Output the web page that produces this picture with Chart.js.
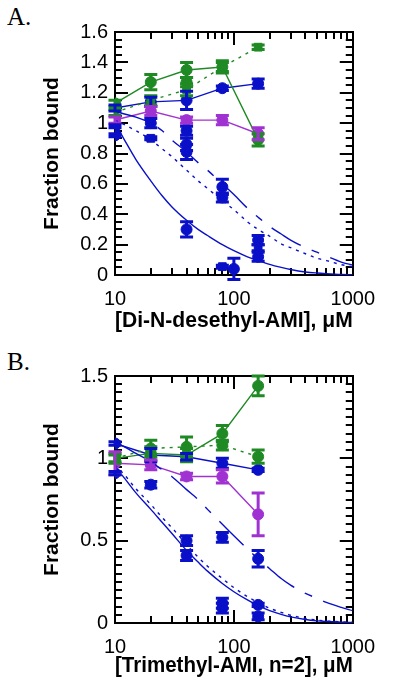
<!DOCTYPE html>
<html><head><meta charset="utf-8">
<script src="https://cdn.jsdelivr.net/npm/chart.js@4/dist/chart.umd.min.js"></script>
<style>
html,body{margin:0;padding:0;background:#fff;width:400px;height:689px;overflow:hidden}
canvas{position:absolute;left:0}
.lab{position:absolute;left:7px;font-family:"Liberation Serif","Times New Roman",serif;font-size:25px;line-height:25px;color:#000}
</style></head><body>
<div class="lab" style="top:4px">A.</div>
<div class="lab" style="top:349px">B.</div>
<canvas id="ca" width="400" height="344" style="top:0"></canvas>
<canvas id="cb" width="400" height="345" style="top:344px"></canvas>
<script>
// ---------- data ----------
const conc = [10, 20, 40, 80, 160];
const xTickValues = [10, 100, 1000];
const xTickLabels = ['10', '100', '1000'];
const xMinorTicks = [20, 30, 40, 50, 60, 70, 80, 90, 200, 300, 400, 500, 600, 700, 800, 900];
const yTickValuesA = [0, 0.2, 0.4, 0.6, 0.8, 1, 1.2, 1.4, 1.6];
const yTickLabelsA = ['0', '0.2', '0.4', '0.6', '0.8', '1', '1.2', '1.4', '1.6'];
const yTickValuesB = [0, 0.5, 1, 1.5];
const yTickLabelsB = ['0', '0.5', '1', '1.5'];
const xTitleA = '[Di-N-desethyl-AMI], \u03bcM';
const xTitleB = '[Trimethyl-AMI, n=2], \u03bcM';
const yTitle = 'Fraction bound';

// Panel A series
const aGreenSolid = [1.13, 1.27, 1.35, 1.37, 0.89];
const aGreenSolidErr = [0.02, 0.05, 0.05, 0.03, 0.04];
const aGreenDotted = [1.07, 1.15, 1.22, 1.37, 1.50];
const aGreenDottedErr = [0.02, 0.03, 0.04, 0.04, 0.015];
const aGreenExtraX = [40];
const aGreenExtraY = [1.27];
const aGreenExtraErr = [0.03];
const aBlueRise = [1.10, 1.14, 1.15, 1.23, 1.26];
const aBlueRiseErr = [0.02, 0.03, 0.06, 0.015, 0.03];
const aPurple = [1.02, 1.08, 1.02, 1.02, 0.93];
const aPurpleErr = [0.02, 0.03, 0.02, 0.03, 0.04];
const aBlueX   = [10, 10, 20, 20, 40, 40, 40, 40, 80, 80, 80, 100, 160, 160, 160];
const aBlueY   = [0.98, 0.92, 1.00, 0.90, 0.95, 0.86, 0.81, 0.30, 0.58, 0.51, 0.055, 0.04, 0.23, 0.18, 0.12];
const aBlueErr = [0.01, 0.01, 0.03, 0.01, 0.03, 0.04, 0.05, 0.05, 0.05, 0.03, 0.01, 0.07, 0.03, 0.02, 0.03];
const aBlueShape = ['circle','circle','circle','rect','circle','circle','circle','circle','circle','circle','rect','circle','circle','rect','circle'];

// fitted curves
const fitX = [10, 12, 15, 20, 25, 30, 40, 50, 60, 80, 100, 130, 160, 200, 250, 300, 400, 500, 600, 800, 1000];
const aFitSolid = [1.00, 0.89, 0.76, 0.62, 0.52, 0.45, 0.36, 0.30, 0.26, 0.20, 0.16, 0.12, 0.095, 0.07, 0.05, 0.036, 0.02, 0.013, 0.009, 0.004, 0.002];
const aFitDash  = [1.08, 1.06, 1.04, 1.00, 0.95, 0.89, 0.81, 0.74, 0.69, 0.60, 0.53, 0.44, 0.38, 0.32, 0.27, 0.23, 0.18, 0.15, 0.125, 0.085, 0.065];
const aFitDot   = [1.02, 0.99, 0.95, 0.89, 0.83, 0.78, 0.69, 0.62, 0.57, 0.49, 0.43, 0.35, 0.30, 0.255, 0.205, 0.18, 0.14, 0.11, 0.095, 0.068, 0.055];

// Panel B series
const bGreenSolid = [1.00, 1.03, 1.02, 1.15, 1.44];
const bGreenSolidErr = [0.02, 0.04, 0.04, 0.05, 0.06];
const bGreenDotted = [1.00, 1.06, 1.07, 1.08, 1.01];
const bGreenDottedErr = [0.03, 0.05, 0.06, 0.03, 0.04];
const bBlueLine = [1.09, 1.02, 1.01, 0.97, 0.93];
const bBlueLineErr = [0.01, 0.04, 0.02, 0.03, 0.01];
const bPurple = [0.97, 0.96, 0.89, 0.89, 0.66];
const bPurpleErr = [0.07, 0.03, 0.02, 0.04, 0.13];
const bBlueX   = [10, 20, 40, 40, 80, 80, 80, 160, 160, 160];
const bBlueY   = [0.91, 0.84, 0.50, 0.41, 0.52, 0.12, 0.09, 0.39, 0.11, 0.04];
const bBlueErr = [0.01, 0.02, 0.03, 0.03, 0.03, 0.03, 0.03, 0.05, 0.01, 0.02];
const bFitSolid = [0.95, 0.88, 0.79, 0.69, 0.61, 0.545, 0.44, 0.37, 0.315, 0.24, 0.19, 0.14, 0.105, 0.075, 0.052, 0.037, 0.021, 0.013, 0.009, 0.005, 0.003];
const bFitDash  = [1.10, 1.07, 1.03, 0.98, 0.93, 0.89, 0.81, 0.75, 0.69, 0.60, 0.53, 0.45, 0.39, 0.33, 0.27, 0.23, 0.18, 0.15, 0.125, 0.095, 0.075];
const bFitDot   = [0.96, 0.90, 0.815, 0.72, 0.64, 0.58, 0.475, 0.40, 0.345, 0.27, 0.215, 0.16, 0.125, 0.09, 0.065, 0.047, 0.028, 0.018, 0.012, 0.007, 0.004];

// ---------- styling ----------
const BLUE = '#0a10c8', GREEN = '#1f8a24', PURPLE = '#a032d2';
const FONT = '"Liberation Sans", Arial, Helvetica, sans-serif';

function pts(xs, ys) { return xs.map((x, i) => ({x: x, y: ys[i]})); }

function seriesDS(xs, ys, errs, color, opts) {
  return Object.assign({
    data: pts(xs, ys), errors: errs, borderColor: color, backgroundColor: color,
    borderWidth: 1.4, pointRadius: 5.5, pointHoverRadius: 5.5, pointBorderWidth: 1,
    pointStyle: 'circle', showLine: true, tension: 0, xAxisID: 'x', yAxisID: 'y'
  }, opts || {});
}
function curveDS(ys, dash) {
  return {data: pts(fitX, ys), borderColor: BLUE, backgroundColor: BLUE, borderWidth: 1.4,
    pointRadius: 0, showLine: true, borderDash: dash, cubicInterpolationMode: 'monotone',
    xAxisID: 'x', yAxisID: 'y'};
}

const errorBarPlugin = {
  id: 'errbars',
  afterDatasetsDraw(chart) {
    const ctx = chart.ctx, ys = chart.scales.y;
    chart.data.datasets.forEach((ds, i) => {
      if (!ds.errors) return;
      const meta = chart.getDatasetMeta(i);
      meta.data.forEach((pt, j) => {
        const e = ds.errors[j]; if (!e) return;
        const v = ds.data[j].y;
        const t = ys.getPixelForValue(v + e), b = ys.getPixelForValue(v - e);
        ctx.save(); ctx.strokeStyle = ds.borderColor; ctx.lineWidth = 3; ctx.setLineDash([]);
        ctx.beginPath();
        ctx.moveTo(pt.x, t); ctx.lineTo(pt.x, b);
        ctx.moveTo(pt.x - 6.5, t); ctx.lineTo(pt.x + 6.5, t);
        ctx.moveTo(pt.x - 6.5, b); ctx.lineTo(pt.x + 6.5, b);
        ctx.stroke(); ctx.restore();
      });
    });
  }
};

// auxiliary axis that only draws inward tick marks (and optionally the frame border)
function auxAxis(kind, position, tickVals, tickLen, withBorder, weight, yMax) {
  const horiz = (position === 'top' || position === 'bottom');
  const s = {
    type: kind, position: position, weight: weight, display: true,
    min: horiz ? 10 : 0, max: horiz ? 1000 : yMax,
    grid: {display: true, drawOnChartArea: false, drawTicks: true, tickLength: tickLen,
      color: '#000', tickColor: '#000', tickWidth: 2, lineWidth: 2},
    border: {display: withBorder, color: '#000', width: 2},
    ticks: {display: false, autoSkip: false},
    afterBuildTicks: sc => { sc.ticks = tickVals.map(v => ({value: v})); }
  };
  if (horiz) s.afterFit = sc => { sc.height = 0; };
  else s.afterFit = sc => { sc.width = 0; };
  return s;
}

function minorY(yMax, step, majors) {
  const out = [];
  const n = Math.round(yMax / step);
  for (let k = 0; k <= n; k++) {
    const v = Math.round(k * step * 1000) / 1000;
    if (!majors.some(m => Math.abs(m - v) < 1e-6)) out.push(v);
  }
  return out;
}

function makeChart(id, h, top, bottom, yMax, yTickVals, yTickLabs, yMinor, xTitle, datasets) {
  const yMinorVals = minorY(yMax, yMinor, yTickVals);
  return new Chart(document.getElementById(id), {
    type: 'line',
    data: {datasets: datasets},
    options: {
      responsive: false, animation: false, devicePixelRatio: 1,
      layout: {padding: {top: top, right: 33, left: 0, bottom: 0}},
      plugins: {legend: {display: false}, tooltip: {enabled: false}},
      scales: {
        x: {type: 'logarithmic', min: 10, max: 1000, position: 'bottom', weight: 10,
          grid: {display: true, drawOnChartArea: false, drawTicks: true, tickLength: -13,
            color: '#000', tickColor: '#000', tickWidth: 2, lineWidth: 2},
          border: {display: true, color: '#000', width: 2},
          afterBuildTicks: s => { s.ticks = xTickValues.map(v => ({value: v})); },
          afterFit: s => { s.height = h - bottom; },
          ticks: {autoSkip: false, maxRotation: 0, color: '#000', padding: 25,
            font: {family: FONT, size: 20},
            callback: v => { const i = xTickValues.indexOf(v); return i >= 0 ? xTickLabels[i] : ''; }},
          title: {display: true, text: xTitle, color: '#000', padding: {top: 0, bottom: 10},
            font: {family: FONT, size: 21.5, weight: 'bold'}}
        },
        y: {type: 'linear', min: 0, max: yMax, position: 'left', weight: 10,
          grid: {display: true, drawOnChartArea: false, drawTicks: true, tickLength: -13,
            color: '#000', tickColor: '#000', tickWidth: 2, lineWidth: 2},
          border: {display: true, color: '#000', width: 2},
          afterBuildTicks: s => { s.ticks = yTickVals.map(v => ({value: v})); },
          afterFit: s => { s.width = 115; },
          ticks: {autoSkip: false, color: '#000', padding: 20, font: {family: FONT, size: 20},
            callback: v => { const i = yTickVals.findIndex(t => Math.abs(t - v) < 1e-9); return i >= 0 ? yTickLabs[i] : ''; }},
          title: {display: true, text: yTitle, color: '#000', padding: {top: 40, bottom: 0},
            font: {family: FONT, size: 21, weight: 'bold'}}
        },
        xmb: auxAxis('logarithmic', 'bottom', xMinorTicks, -7, false, 0, yMax),
        xt:  auxAxis('logarithmic', 'top', xTickValues, -13, true, 10, yMax),
        xtm: auxAxis('logarithmic', 'top', xMinorTicks, -7, false, 0, yMax),
        yml: auxAxis('linear', 'left', yMinorVals, -7, false, 0, yMax),
        yr:  auxAxis('linear', 'right', yTickVals, -13, true, 0, yMax),
        yrm: auxAxis('linear', 'right', yMinorVals, -7, false, 10, yMax)
      }
    },
    plugins: [errorBarPlugin]
  });
}

makeChart('ca', 344, 27, 275, 1.6, yTickValuesA, yTickLabelsA, 0.05, xTitleA, [
  curveDS(aFitSolid, []),
  curveDS(aFitDash, [34, 12, 8, 12]),
  curveDS(aFitDot, [3, 5]),
  seriesDS(conc, aGreenSolid, aGreenSolidErr, GREEN),
  seriesDS(conc, aGreenDotted, aGreenDottedErr, GREEN, {borderDash: [3, 5], pointStyle: 'rect'}),
  seriesDS(aGreenExtraX, aGreenExtraY, aGreenExtraErr, GREEN, {showLine: false}),
  seriesDS(conc, aBlueRise, aBlueRiseErr, BLUE),
  seriesDS(conc, aPurple, aPurpleErr, PURPLE),
  seriesDS(aBlueX, aBlueY, aBlueErr, BLUE, {showLine: false, pointStyle: aBlueShape})
]);

makeChart('cb', 345, 29, 279, 1.5, yTickValuesB, yTickLabelsB, 0.05, xTitleB, [
  curveDS(bFitSolid, []),
  curveDS(bFitDash, [34, 12, 8, 12]),
  curveDS(bFitDot, [3, 5]),
  seriesDS(conc, bGreenSolid, bGreenSolidErr, GREEN),
  seriesDS(conc, bGreenDotted, bGreenDottedErr, GREEN, {borderDash: [3, 5]}),
  seriesDS(conc, bBlueLine, bBlueLineErr, BLUE),
  seriesDS(conc, bPurple, bPurpleErr, PURPLE),
  seriesDS(bBlueX, bBlueY, bBlueErr, BLUE, {showLine: false})
]);
</script>
</body></html>
